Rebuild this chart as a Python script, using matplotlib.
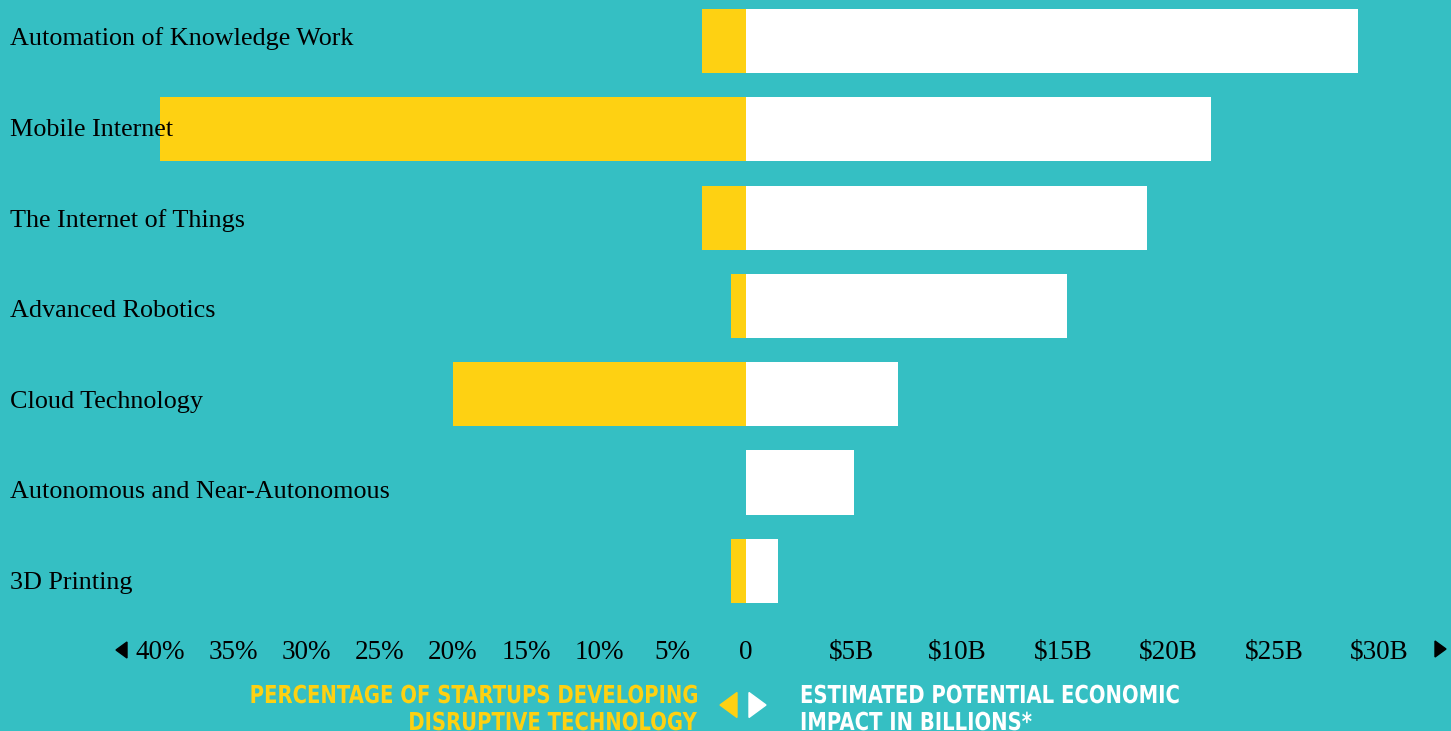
import matplotlib.pyplot as plt
from matplotlib.patches import Polygon, PathPatch
from matplotlib.textpath import TextPath
from matplotlib.font_manager import FontProperties
from matplotlib.transforms import Affine2D

# startups vs. economic impact per technology
technologies = [
    "Automation of Knowledge Work",
    "Mobile Internet",
    "The Internet of Things",
    "Advanced Robotics",
    "Cloud Technology",
    "Autonomous and Near-Autonomous",
    "3D Printing",
]
startup_pct = [3, 40, 3, 1, 20, 0, 1]
impact_billions = [29, 22, 19, 15.2, 7.2, 5.1, 1.5]

pct_ticks = [40, 35, 30, 25, 20, 15, 10, 5, 0]
pct_labels = ["40%", "35%", "30%", "25%", "20%", "15%", "10%", "5%", "0"]
usd_ticks = [5, 10, 15, 20, 25, 30]
usd_labels = ["$5B", "$10B", "$15B", "$20B", "$25B", "$30B"]

left_title = ["PERCENTAGE OF STARTUPS DEVELOPING", "DISRUPTIVE TECHNOLOGY"]
right_title = ["ESTIMATED POTENTIAL ECONOMIC", "IMPACT IN BILLIONS*"]

TEAL = "#35bfc3"
YELLOW = "#fed112"
WHITE = "#ffffff"
W, H = 1451, 731

fig = plt.figure(figsize=(W / 100, H / 100), dpi=100, facecolor=TEAL)

zero_px = 746
top_px, bot_px = 0, 618
ax_l = fig.add_axes([0, 1 - bot_px / H, zero_px / W, (bot_px - top_px) / H])
ax_r = fig.add_axes([zero_px / W, 1 - bot_px / H, (W - zero_px) / W, (bot_px - top_px) / H])

row = 88.3
ylim = ((bot_px - 41) / row, (top_px - 41) / row)
ypos = list(range(len(technologies)))

ax_l.barh(ypos, startup_pct, height=0.725, color=YELLOW, zorder=2)
ax_r.barh(ypos, impact_billions, height=0.725, color=WHITE, zorder=2)

ax_l.set_xlim(zero_px / 14.65, 0)
ax_r.set_xlim(0, (W - zero_px) / 21.12)

serif = ["Liberation Serif", "DejaVu Serif"]
for ax in (ax_l, ax_r):
    ax.set_ylim(*ylim)
    ax.set_facecolor("none")
    for s in ax.spines.values():
        s.set_visible(False)
    ax.set_yticks([])
    ax.tick_params(axis="x", length=0, pad=15.5, labelsize=19.5)

ax_l.set_xticks(pct_ticks)
ax_l.set_xticklabels(pct_labels, fontfamily=serif)
ax_r.set_xticks(usd_ticks)
ax_r.set_xticklabels(usd_labels, fontfamily=serif)

# category names sit on top of the bars
for i, name in enumerate(technologies):
    ax_l.text(10 / zero_px, 1 - (39 + 90.7 * i) / bot_px, name, transform=ax_l.transAxes,
              fontsize=18.8, family=serif, color="black", va="center", ha="left", zorder=5)


def tri(x0, x1, yc, h, pointing, color):
    if pointing == "left":
        pts = [(x1, yc - h / 2), (x1, yc + h / 2), (x0, yc)]
    else:
        pts = [(x0, yc - h / 2), (x0, yc + h / 2), (x1, yc)]
    pts = [(x / W, 1 - y / H) for x, y in pts]
    fig.add_artist(Polygon(pts, closed=True, color=color, transform=fig.transFigure))


# axis end arrows
tri(116, 127, 650, 16, "left", "black")
tri(1435, 1446, 649, 16, "right", "black")

# direction arrows between the two titles
tri(720, 737, 705, 25, "left", YELLOW)
tri(749, 766, 705, 25, "right", WHITE)

# condensed bold titles: squeeze a bold text path horizontally
bold = FontProperties(family="DejaVu Sans", weight="bold")
squeeze = 0.795


def condensed(s, x, baseline, color, align="left", size=24.7):
    tp = TextPath((0, 0), s, size=size, prop=bold)
    width = tp.get_extents().x1 * squeeze
    x0 = x - width if align == "right" else x
    tr = (Affine2D().scale(squeeze, 1).translate(x0, H - baseline)
          .scale(1 / W, 1 / H) + fig.transFigure)
    fig.add_artist(PathPatch(tp, facecolor=color, edgecolor="none", transform=tr))


for k, line in enumerate(left_title):
    condensed(line, 697, 703 + 27 * k, YELLOW, align="right")
for k, line in enumerate(right_title):
    condensed(line, 800, 703 + 27 * k, WHITE)

fig.savefig("out.png", dpi=100, facecolor=TEAL)
